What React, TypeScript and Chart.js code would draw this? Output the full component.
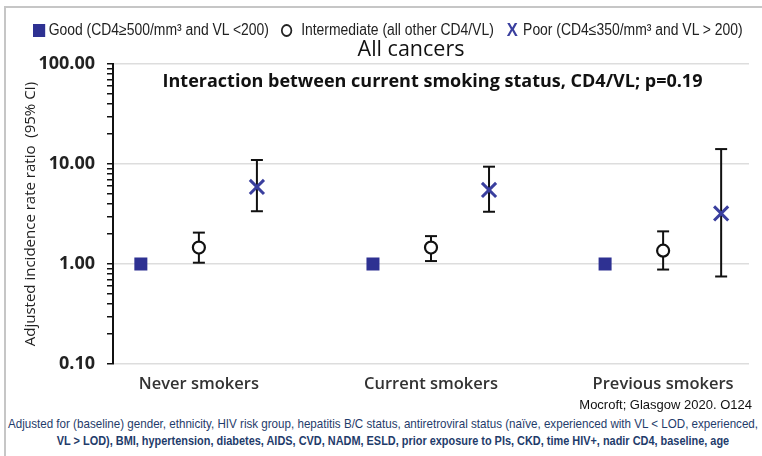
import React, { useEffect, useRef } from 'react';
import { Chart, registerables } from 'chart.js';

Chart.register(...registerables);

// ---- data ----
const categories = ['Never smokers', 'Current smokers', 'Previous smokers'];
const goodIRR = [1.0, 1.0, 1.0];
const intermediateIRR = [1.46, 1.46, 1.36];
const intermediateLo = [1.03, 1.07, 0.88];
const intermediateHi = [2.06, 1.9, 2.12];
const poorIRR = [5.9, 5.5, 3.2];
const poorLo = [3.37, 3.33, 0.75];
const poorHi = [10.97, 9.4, 14.1];
const yMajorTicks = [0.1, 1, 10, 100];
const yTitle = 'Adjusted incidence rate ratio  (95% CI)';
const chartSubtitle = 'Interaction between current smoking status, CD4/VL; p=0.19';
const chartTitle = 'All cancers';
const legendGood = 'Good (CD4\u2265500/mm\u00b3 and VL <200)';
const legendIntermediate = 'Intermediate (all other CD4/VL)';
const legendPoor = 'Poor (CD4\u2264350/mm\u00b3 and VL > 200)';
const sourceNote = 'Mocroft; Glasgow 2020. O124';
const adjustNote1 =
  'Adjusted for (baseline) gender, ethnicity, HIV risk group, hepatitis B/C status, antiretroviral status (na\u00efve, experienced with VL < LOD,  experienced,';
const adjustNote2 =
  'VL > LOD), BMI, hypertension, diabetes, AIDS, CVD, NADM, ESLD, prior exposure to PIs, CKD, time HIV+, nadir CD4, baseline, age';

const GOOD_OFF = -0.25;
const INT_OFF = 0;
const POOR_OFF = 0.25;

const BLUE = '#2e3192';
const XBLUE = '#3a3f9e';

const isMajor = (v: number) => {
  const l = Math.log10(v);
  return Math.abs(l - Math.round(l)) < 1e-9;
};

export default function App() {
  const ref = useRef<HTMLCanvasElement | null>(null);

  useEffect(() => {
    if (!ref.current) return;
    const good = categories.map((_, i) => ({ x: i + GOOD_OFF, y: goodIRR[i] }));
    const inter = categories.map((_, i) => ({ x: i + INT_OFF, y: intermediateIRR[i] }));
    const poor = categories.map((_, i) => ({ x: i + POOR_OFF, y: poorIRR[i] }));
    const ci: any[] = [];
    categories.forEach((_, i) => {
      ci.push({ x: i + INT_OFF, y: intermediateLo[i] }, { x: i + INT_OFF, y: intermediateHi[i] }, { x: i + INT_OFF, y: null });
      ci.push({ x: i + POOR_OFF, y: poorLo[i] }, { x: i + POOR_OFF, y: poorHi[i] }, { x: i + POOR_OFF, y: null });
    });

    const yTicks: { value: number; major: boolean }[] = [];
    for (let d = 0; d < yMajorTicks.length; d++) {
      const base = yMajorTicks[d];
      yTicks.push({ value: base, major: true });
      if (d < yMajorTicks.length - 1) {
        for (let k = 2; k <= 9; k++) yTicks.push({ value: base * k, major: false });
      }
    }

    const chart = new Chart(ref.current, {
      type: 'scatter',
      data: {
        datasets: [
          {
            label: 'Good',
            data: good,
            pointStyle: 'rect',
            pointRadius: 9.2,
            pointHoverRadius: 9.2,
            backgroundColor: BLUE,
            borderColor: BLUE,
            borderWidth: 0,
          },
          {
            label: 'Intermediate',
            data: inter,
            pointStyle: 'circle',
            pointRadius: 6,
            pointHoverRadius: 6,
            backgroundColor: '#ffffff',
            borderColor: '#111111',
            borderWidth: 2.2,
          },
          {
            label: 'Poor',
            data: poor,
            pointStyle: 'crossRot',
            pointRadius: 10,
            pointHoverRadius: 10,
            backgroundColor: XBLUE,
            borderColor: XBLUE,
            borderWidth: 3,
          },
          {
            label: 'CI',
            data: ci,
            showLine: true,
            spanGaps: false,
            borderColor: '#111111',
            borderWidth: 2,
            pointStyle: 'line',
            pointRadius: 6,
            pointHoverRadius: 6,
            pointBorderWidth: 2,
            pointBorderColor: '#111111',
            backgroundColor: '#111111',
          } as any,
        ],
      },
      options: {
        animation: false,
        responsive: false,
        events: [],
        layout: { padding: { top: 64, right: 10, left: 0, bottom: 0 } },
        plugins: {
          legend: { display: false },
          tooltip: { enabled: false },
          title: { display: false },
        },
        scales: {
          x: {
            type: 'linear',
            min: -0.37,
            max: 2.37,
            afterBuildTicks: (s: any) => {
              s.ticks = categories.map((_, i) => ({ value: i }));
            },
            afterFit: (s: any) => {
              s.height = 36;
            },
            ticks: {
              autoSkip: false,
              maxRotation: 0,
              padding: 2,
              color: '#333333',
              font: { family: 'Open Sans', size: 16.5, weight: '600' },
              callback: (_v: any, idx: number) => categories[idx] ?? '',
            },
            grid: { display: false },
            border: { display: false },
          },
          y: {
            type: 'logarithmic',
            min: 0.1,
            max: 100,
            afterBuildTicks: (s: any) => {
              s.ticks = yTicks.map((t) => ({ ...t }));
            },
            afterFit: (s: any) => {
              s.width = 113;
            },
            ticks: {
              autoSkip: false,
              padding: 12,
              color: '#222222',
              font: { family: 'Open Sans', size: 18, weight: 'bold' },
              callback: (v: any) => (isMajor(Number(v)) ? Number(v).toFixed(2) : ''),
            },
            grid: {
              color: (ctx: any) => (ctx.tick && isMajor(ctx.tick.value) ? '#dddddd' : 'rgba(0,0,0,0)'),
              lineWidth: 1.5,
              tickColor: '#111111',
              tickLength: 6,
              tickWidth: 1.5,
            },
            border: { display: true, color: '#111111', width: 2 },
            title: {
              display: true,
              text: yTitle,
              color: '#222222',
              font: { family: 'Open Sans', size: 15 },
              padding: { top: 22, bottom: 0 },
            },
          },
        },
      } as any,
    });
    return () => chart.destroy();
  }, []);

  const abs = (s: React.CSSProperties): React.CSSProperties => ({ position: 'absolute', whiteSpace: 'nowrap', ...s });
  const sans = '"Liberation Sans", Arial, sans-serif';
  const noteLine = (center: number, top: number, scale: number, bold: boolean, text: string) => (
    <div
      style={abs({
        left: center - 500,
        width: 1000,
        top,
        textAlign: 'center',
        fontFamily: sans,
        fontSize: 13,
        lineHeight: '17px',
        fontWeight: bold ? 'bold' : 'normal',
        color: '#1f3c6b',
        transform: `scaleX(${scale})`,
        transformOrigin: 'center center',
      })}
    >
      {text}
    </div>
  );

  return (
    <div style={{ position: 'fixed', left: 0, top: 0, width: 762, height: 456, background: '#fff', overflow: 'hidden' }}>
      <div
        style={abs({
          left: 4,
          top: 6,
          width: 758,
          height: 450,
          borderTop: '2px solid #c6c6c6',
          borderLeft: '2px solid #c6c6c6',
        })}
      />
      <canvas ref={ref} width={762} height={400} style={{ position: 'absolute', left: 0, top: 0 }} />
      <div
        style={abs({
          left: 33,
          top: 20,
          fontFamily: sans,
          fontSize: 16,
          lineHeight: '20px',
          color: '#222',
          display: 'flex',
          alignItems: 'center',
          transform: 'scaleX(0.87)',
          transformOrigin: 'left center',
        })}
      >
        <span style={{ display: 'inline-block', width: 14, height: 13, background: BLUE, marginRight: 4 }} />
        <span>{legendGood}</span>
        <span
          style={{
            display: 'inline-block',
            width: 9,
            height: 9,
            border: '2px solid #222',
            borderRadius: '50%',
            marginLeft: 14,
            marginRight: 10,
          }}
        />
        <span>{legendIntermediate}</span>
        <span style={{ color: XBLUE, fontWeight: 'bold', fontSize: 19, marginLeft: 15, marginRight: 6 }}>X</span>
        <span>{legendPoor}</span>
      </div>
      <div
        style={abs({
          left: 261,
          width: 300,
          top: 34,
          textAlign: 'center',
          fontFamily: 'Open Sans',
          fontSize: 21.5,
          lineHeight: '28px',
          color: '#111',
        })}
      >
        {chartTitle}
      </div>
      <div
        style={abs({
          left: 113,
          width: 639,
          top: 68,
          textAlign: 'center',
          fontFamily: 'Open Sans',
          fontWeight: 'bold',
          fontSize: 18,
          lineHeight: '24px',
          color: '#111',
        })}
      >
        {chartSubtitle}
      </div>
      <div style={abs({ right: 10, top: 397, fontFamily: sans, fontSize: 13, lineHeight: '16px', color: '#111' })}>
        {sourceNote}
      </div>
      {noteLine(383, 415, 0.893, false, adjustNote1)}
      {noteLine(393, 432, 0.84, true, adjustNote2)}
    </div>
  );
}
